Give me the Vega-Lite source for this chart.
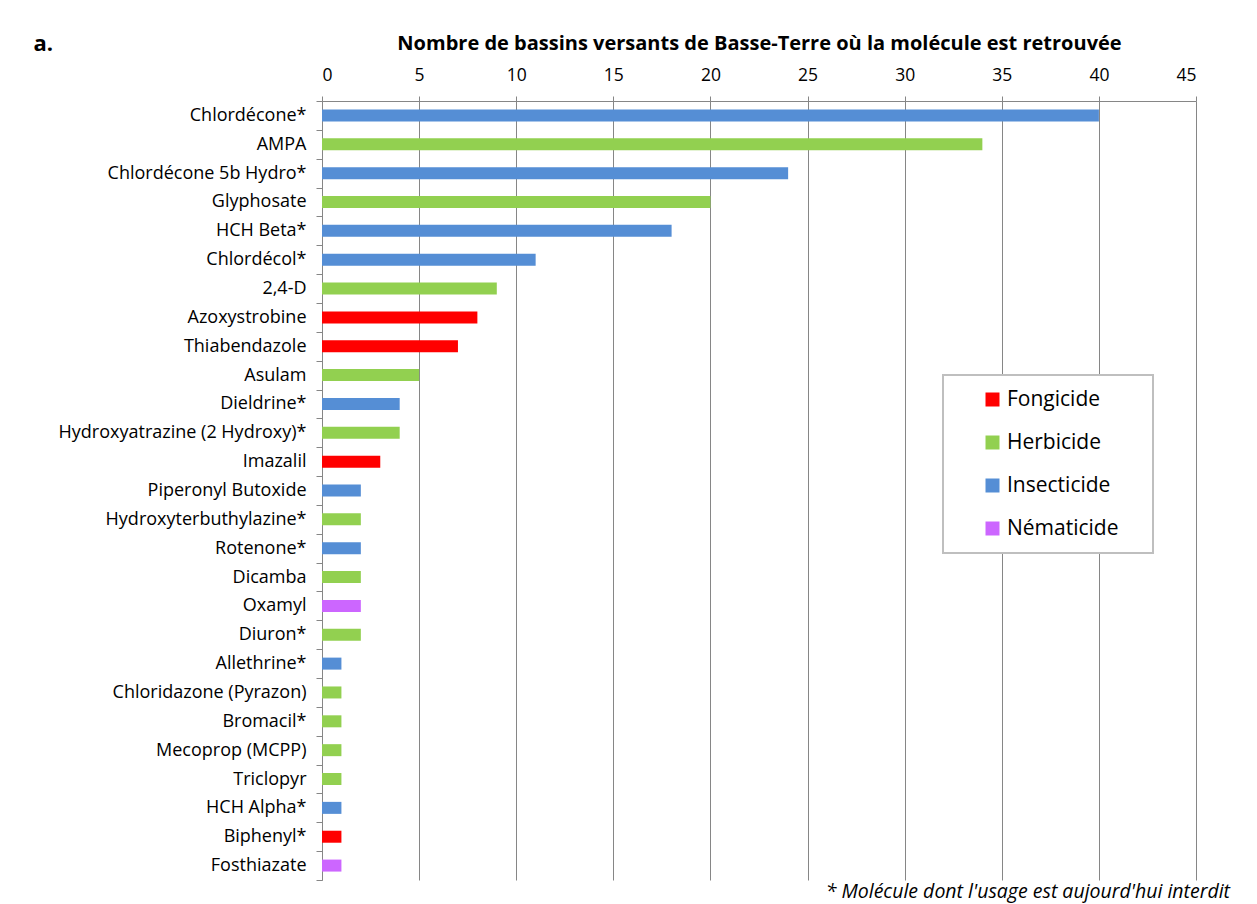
{
  "$schema": "https://vega.github.io/schema/vega-lite/v6.json",
  "width": 874,
  "height": 779,
  "autosize": {"type": "none"},
  "padding": {"left": 322, "top": 101, "right": 61, "bottom": 24},
  "background": "white",
  "title": {
    "text": "* Molécule dont l'usage est aujourd'hui interdit",
    "orient": "bottom",
    "anchor": "end",
    "frame": "group",
    "font": "Open Sans",
    "fontSize": 19.5,
    "fontStyle": "italic",
    "fontWeight": "normal",
    "color": "#000000",
    "offset": 2,
    "dx": 34
  },
  "data": {
    "values": [
      {"molecule": "Chlordécone*", "n": 40, "type": "Insecticide"},
      {"molecule": "AMPA", "n": 34, "type": "Herbicide"},
      {"molecule": "Chlordécone 5b Hydro*", "n": 24, "type": "Insecticide"},
      {"molecule": "Glyphosate", "n": 20, "type": "Herbicide"},
      {"molecule": "HCH Beta*", "n": 18, "type": "Insecticide"},
      {"molecule": "Chlordécol*", "n": 11, "type": "Insecticide"},
      {"molecule": "2,4-D", "n": 9, "type": "Herbicide"},
      {"molecule": "Azoxystrobine", "n": 8, "type": "Fongicide"},
      {"molecule": "Thiabendazole", "n": 7, "type": "Fongicide"},
      {"molecule": "Asulam", "n": 5, "type": "Herbicide"},
      {"molecule": "Dieldrine*", "n": 4, "type": "Insecticide"},
      {"molecule": "Hydroxyatrazine (2 Hydroxy)*", "n": 4, "type": "Herbicide"},
      {"molecule": "Imazalil", "n": 3, "type": "Fongicide"},
      {"molecule": "Piperonyl Butoxide", "n": 2, "type": "Insecticide"},
      {"molecule": "Hydroxyterbuthylazine*", "n": 2, "type": "Herbicide"},
      {"molecule": "Rotenone*", "n": 2, "type": "Insecticide"},
      {"molecule": "Dicamba", "n": 2, "type": "Herbicide"},
      {"molecule": "Oxamyl", "n": 2, "type": "Nématicide"},
      {"molecule": "Diuron*", "n": 2, "type": "Herbicide"},
      {"molecule": "Allethrine*", "n": 1, "type": "Insecticide"},
      {"molecule": "Chloridazone (Pyrazon)", "n": 1, "type": "Herbicide"},
      {"molecule": "Bromacil*", "n": 1, "type": "Herbicide"},
      {"molecule": "Mecoprop (MCPP)", "n": 1, "type": "Herbicide"},
      {"molecule": "Triclopyr", "n": 1, "type": "Herbicide"},
      {"molecule": "HCH Alpha*", "n": 1, "type": "Insecticide"},
      {"molecule": "Biphenyl*", "n": 1, "type": "Fongicide"},
      {"molecule": "Fosthiazate", "n": 1, "type": "Nématicide"}
    ]
  },
  "mark": {"type": "bar", "size": 12},
  "encoding": {
    "y": {
      "field": "molecule",
      "type": "nominal",
      "sort": null,
      "scale": {"paddingInner": 0, "paddingOuter": 0},
      "axis": {
        "title": "a.",
        "titleAngle": 0,
        "titleX": -289,
        "titleY": -58,
        "titleAlign": "left",
        "titleBaseline": "middle",
        "titleFont": "Open Sans",
        "titleFontSize": 22,
        "titleFontWeight": "bold",
        "titleColor": "#000000",
        "labelFont": "Open Sans",
        "labelFontSize": 18,
        "labelColor": "#000000",
        "labelPadding": 10,
        "labelLimit": 400,
        "tickBand": "extent",
        "tickSize": 6,
        "tickColor": "#868686",
        "domainColor": "#868686",
        "grid": false
      }
    },
    "x": {
      "field": "n",
      "type": "quantitative",
      "scale": {"domain": [0, 45], "nice": false},
      "axis": {
        "orient": "top",
        "values": [0, 5, 10, 15, 20, 25, 30, 35, 40, 45],
        "title": "Nombre de bassins versants de Basse-Terre où la molécule est retrouvée",
        "titleY": -58,
        "titleBaseline": "middle",
        "titleFont": "Open Sans",
        "titleFontSize": 20,
        "titleFontWeight": "bold",
        "titleColor": "#000000",
        "labelFont": "Open Sans",
        "labelFontSize": 17.5,
        "labelColor": "#000000",
        "labelPadding": 12,
        "tickSize": 5,
        "tickColor": "#868686",
        "domainColor": "#868686",
        "grid": true,
        "gridColor": "#868686",
        "gridWidth": 1,
        "gridOpacity": 1
      }
    },
    "color": {
      "field": "type",
      "type": "nominal",
      "scale": {
        "domain": ["Fongicide", "Herbicide", "Insecticide", "Nématicide"],
        "range": ["#FF0000", "#92D050", "#558ED5", "#CC66FF"]
      },
      "legend": {
        "title": "x",
        "titleOrient": "right",
        "titleOpacity": 0,
        "titleFontSize": 10,
        "titlePadding": 14,
        "orient": "none",
        "legendX": 621,
        "legendY": 274,
        "symbolType": "square",
        "symbolSize": 196,
        "symbolStrokeWidth": 0,
        "symbolOpacity": 1,
        "symbolOffset": 25,
        "labelFont": "Open Sans",
        "labelFontSize": 21,
        "labelColor": "#000000",
        "labelOffset": 4,
        "rowPadding": 21,
        "padding": 14,
        "strokeColor": "#BFBFBF",
        "fillColor": "#FFFFFF"
      }
    }
  },
  "config": {
    "view": {"stroke": null},
    "legend": {"strokeWidth": 2}
  }
}
